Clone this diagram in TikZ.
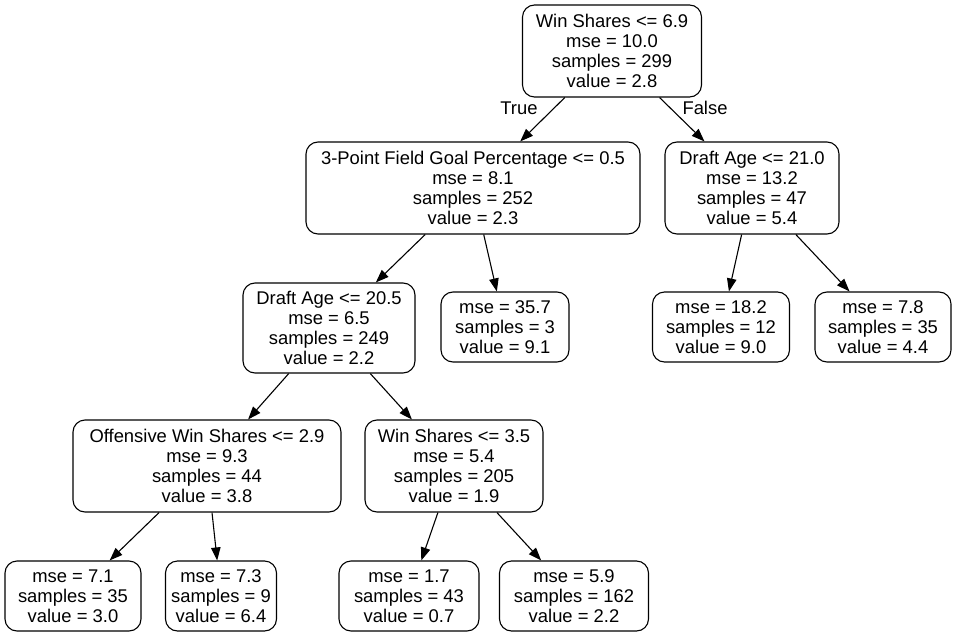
\documentclass[tikz,border=0pt]{standalone}
\usepackage{fontspec}
\setmainfont{Liberation Sans}
\usetikzlibrary{arrows.meta}
\tikzset{line/.style={draw, line width=1.1pt, -{Triangle[length=13pt,width=9.5pt]}}}

\begin{document}
\begin{tikzpicture}[x=1pt, y=-1pt]
\tikzstyle{split} = [rectangle, rounded corners=12pt, draw, line width=1.1pt, align=center, font=\fontsize{18.4}{20}\selectfont, inner sep=0pt, minimum height=92pt]
\tikzstyle{leaf} = [split, minimum height=70pt]
\useasboundingbox (0,0) rectangle (957,636);

% nodes
    % level 0
    \node [split, minimum width=179pt] (root) at (612,51) {Win Shares <= 6.9\\mse = 10.0\\samples = 299\\value = 2.8};
    % level 1
    \node [split, minimum width=334pt] (threept) at (473,188) {3-Point Field Goal Percentage <= 0.5\\mse = 8.1\\samples = 252\\value = 2.3};
    \node [split, minimum width=174pt] (age21) at (752,188) {Draft Age <= 21.0\\mse = 13.2\\samples = 47\\value = 5.4};
    % level 2
    \node [split, minimum width=172pt, minimum height=90pt] (age20) at (329,328) {Draft Age <= 20.5\\mse = 6.5\\samples = 249\\value = 2.2};
    \node [leaf, minimum width=128pt] (leafA) at (505,327) {mse = 35.7\\samples = 3\\value = 9.1};
    \node [leaf, minimum width=137pt] (leafB) at (721,327) {mse = 18.2\\samples = 12\\value = 9.0};
    \node [leaf, minimum width=136pt] (leafC) at (883,327) {mse = 7.8\\samples = 35\\value = 4.4};
    % level 3
    \node [split, minimum width=268pt] (offws) at (207,466) {Offensive Win Shares <= 2.9\\mse = 9.3\\samples = 44\\value = 3.8};
    \node [split, minimum width=178pt] (ws35) at (454,466) {Win Shares <= 3.5\\mse = 5.4\\samples = 205\\value = 1.9};
    % level 4
    \node [leaf, minimum width=136pt] (leafD) at (73,596) {mse = 7.1\\samples = 35\\value = 3.0};
    \node [leaf, minimum width=111pt] (leafE) at (221,596) {mse = 7.3\\samples = 9\\value = 6.4};
    \node [leaf, minimum width=140pt] (leafF) at (409,596) {mse = 1.7\\samples = 43\\value = 0.7};
    \node [leaf, minimum width=149pt] (leafG) at (574,596) {mse = 5.9\\samples = 162\\value = 2.2};
    % edge labels
    \node [font=\fontsize{18.4}{20}\selectfont] (true) at (519,108) {True};
    \node [font=\fontsize{18.4}{20}\selectfont] (false) at (705,108) {False};

% arrows
    \path [line] (root) -- (threept);
    \path [line] (root) -- (age21);
    \path [line] (threept) -- (age20);
    \path [line] (threept) -- (leafA);
    \path [line] (age21) -- (leafB);
    \path [line] (age21) -- (leafC);
    \path [line] (age20) -- (offws);
    \path [line] (age20) -- (ws35);
    \path [line] (offws) -- (leafD);
    \path [line] (offws) -- (leafE);
    \path [line] (ws35) -- (leafF);
    \path [line] (ws35) -- (leafG);
\end{tikzpicture}
\end{document}
